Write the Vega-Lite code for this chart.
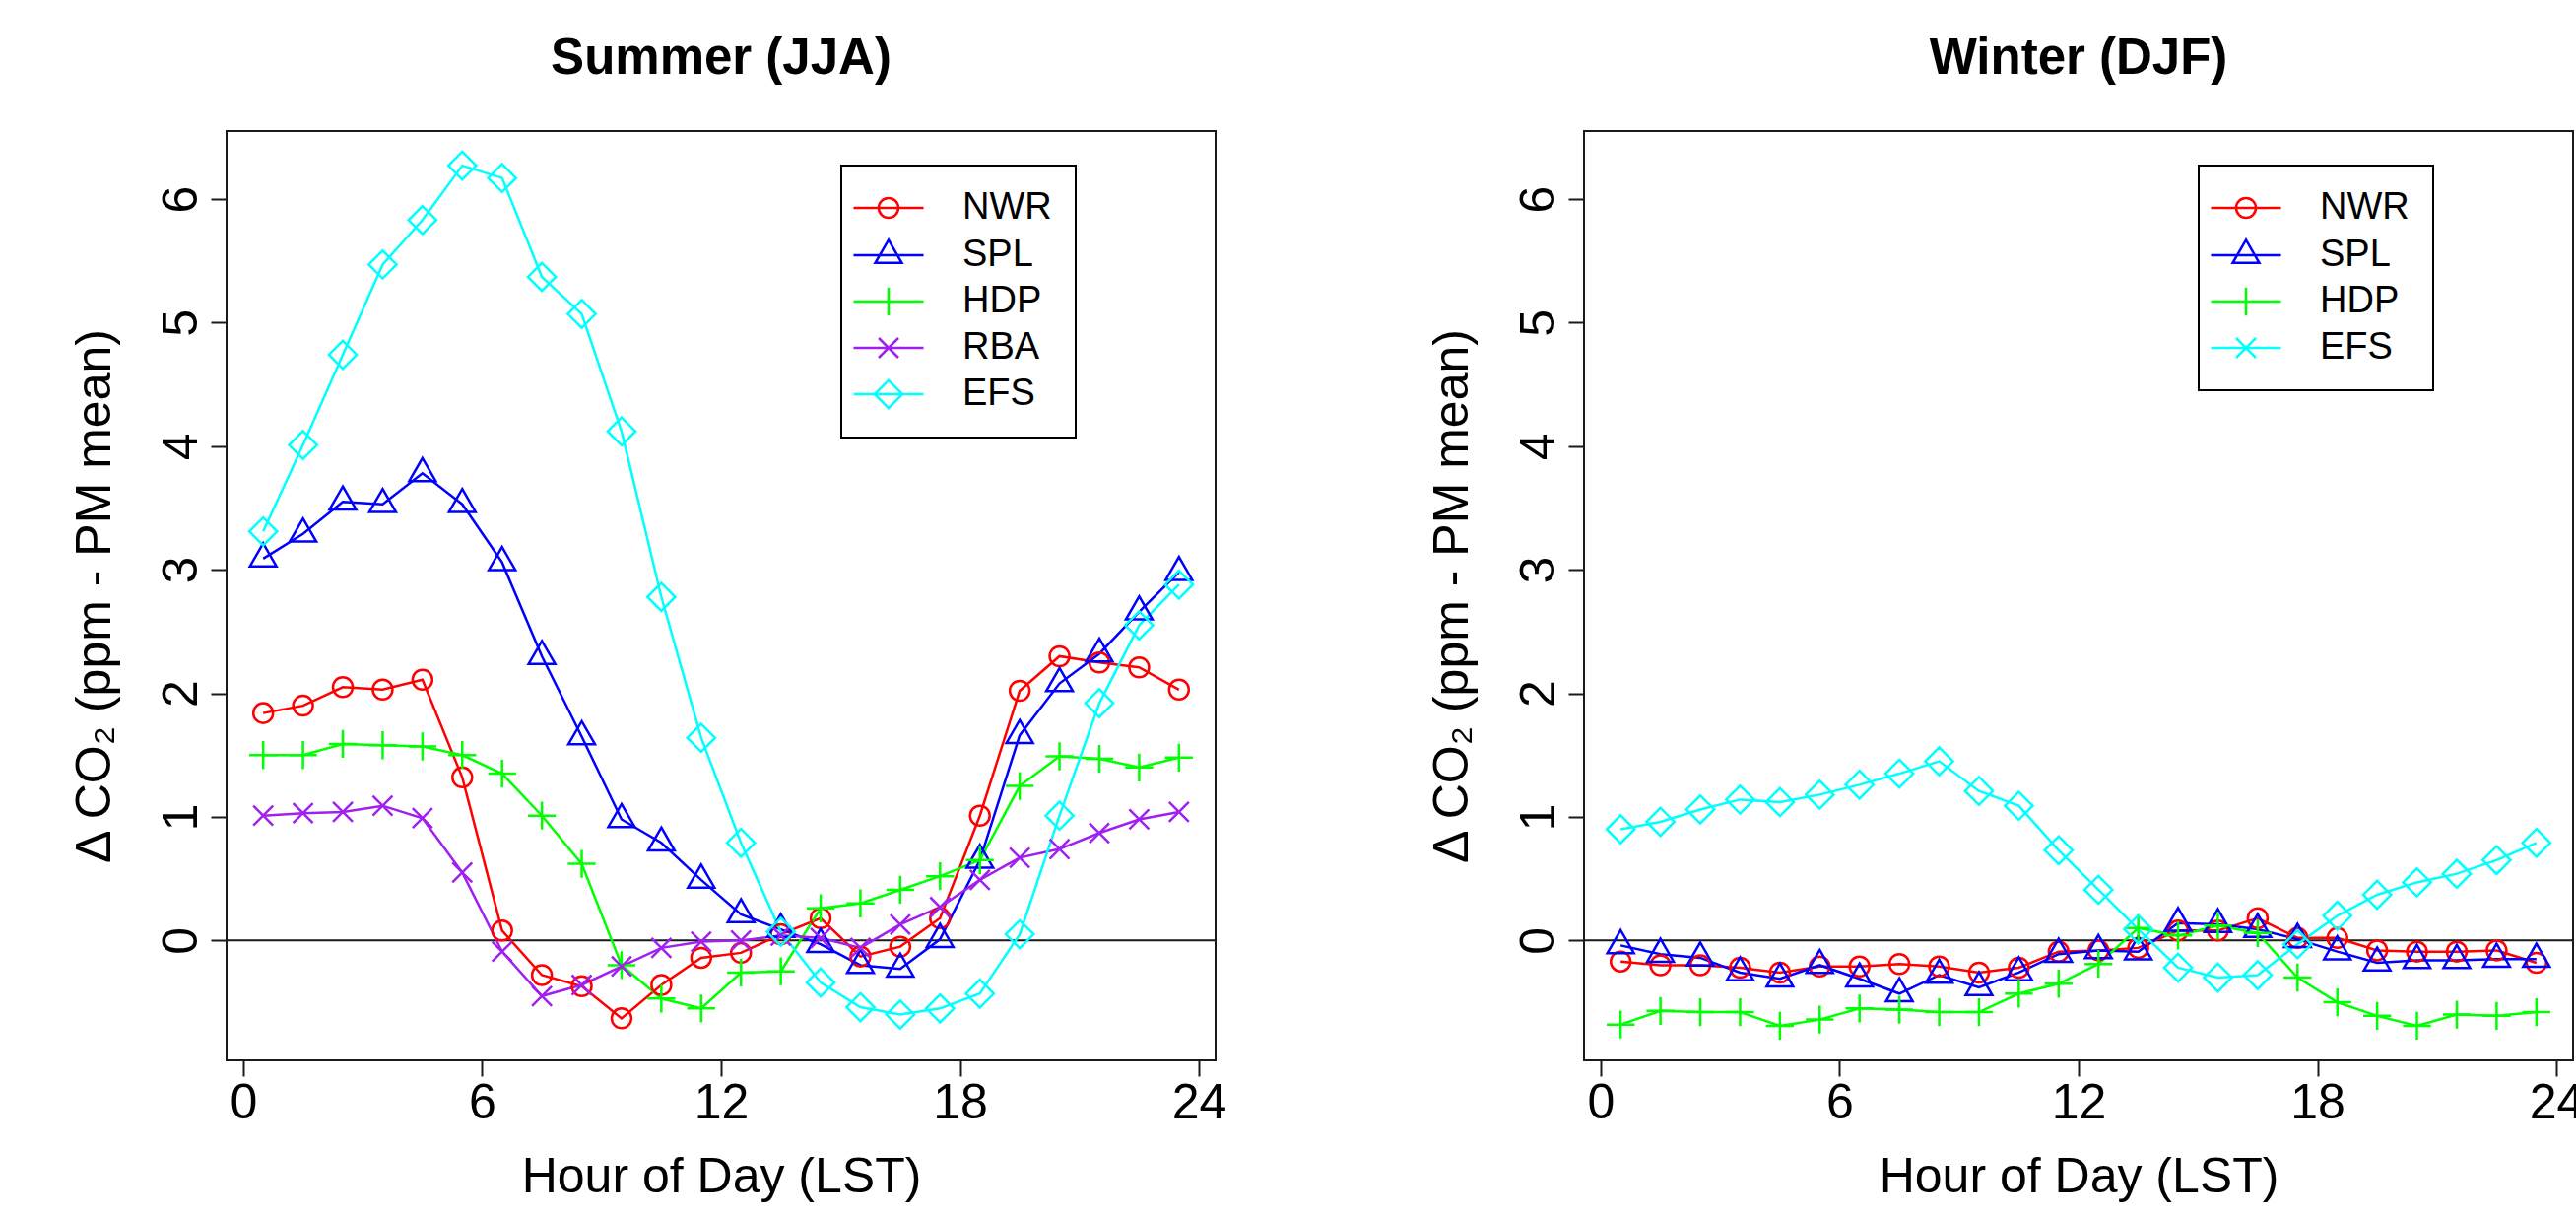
{
  "$schema": "https://vega.github.io/schema/vega-lite/v6.json",
  "background": "white",
  "padding": {"left": 70, "top": 33, "right": 0, "bottom": 5},
  "spacing": 374,
  "bounds": "flush",
  "config": {
    "font": "Liberation Sans",
    "view": {"stroke": "#1a1a1a", "strokeWidth": 2},
    "axis": {"domain": false, "grid": false, "ticks": true, "tickColor": "#1a1a1a", "tickWidth": 2, "tickSize": 16, "labelFont": "Liberation Sans", "labelFontSize": 50, "labelColor": "black", "titleFont": "Liberation Sans", "titleFontSize": 50, "titleFontWeight": "normal", "titleColor": "black"},
    "axisX": {"labelPadding": 2.5, "minExtent": 68.5, "maxExtent": 68.5, "titlePadding": 25, "labelFlush": false},
    "axisY": {"labelAngle": 270, "labelAlign": "center", "labelBaseline": "bottom", "labelPadding": 5, "minExtent": 75, "maxExtent": 75, "titlePadding": 33.5, "titleAngle": 270, "titleBaseline": "bottom", "format": "d"},
    "title": {"font": "Liberation Sans", "fontSize": 51, "fontWeight": "bold", "color": "black", "offset": 47, "anchor": "middle"},
    "legend": {"orient": "none", "legendX": 624, "legendY": 35, "padding": 24, "strokeColor": "black", "strokeWidth": 2, "fillColor": "white", "symbolSize": 900, "symbolOffset": 5, "labelOffset": 56, "rowPadding": 8, "labelFont": "Liberation Sans", "labelFontSize": 38, "labelColor": "black", "labelBaseline": "middle", "symbolStrokeWidth": 2.5, "symbolFillColor": "transparent", "title": null}
  },
  "datasets": {
    "summer": [
      {"hour":0.5,"site":"NWR","co2":1.84},{"hour":1.5,"site":"NWR","co2":1.90},{"hour":2.5,"site":"NWR","co2":2.05},{"hour":3.5,"site":"NWR","co2":2.03},{"hour":4.5,"site":"NWR","co2":2.11},{"hour":5.5,"site":"NWR","co2":1.32},{"hour":6.5,"site":"NWR","co2":0.08},{"hour":7.5,"site":"NWR","co2":-0.28},{"hour":8.5,"site":"NWR","co2":-0.37},{"hour":9.5,"site":"NWR","co2":-0.63},{"hour":10.5,"site":"NWR","co2":-0.36},{"hour":11.5,"site":"NWR","co2":-0.14},{"hour":12.5,"site":"NWR","co2":-0.10},{"hour":13.5,"site":"NWR","co2":0.05},{"hour":14.5,"site":"NWR","co2":0.18},{"hour":15.5,"site":"NWR","co2":-0.13},{"hour":16.5,"site":"NWR","co2":-0.05},{"hour":17.5,"site":"NWR","co2":0.18},{"hour":18.5,"site":"NWR","co2":1.01},{"hour":19.5,"site":"NWR","co2":2.02},{"hour":20.5,"site":"NWR","co2":2.30},{"hour":21.5,"site":"NWR","co2":2.25},{"hour":22.5,"site":"NWR","co2":2.21},{"hour":23.5,"site":"NWR","co2":2.03},
      {"hour":0.5,"site":"SPL","co2":3.09},{"hour":1.5,"site":"SPL","co2":3.29},{"hour":2.5,"site":"SPL","co2":3.55},{"hour":3.5,"site":"SPL","co2":3.53},{"hour":4.5,"site":"SPL","co2":3.78},{"hour":5.5,"site":"SPL","co2":3.53},{"hour":6.5,"site":"SPL","co2":3.06},{"hour":7.5,"site":"SPL","co2":2.30},{"hour":8.5,"site":"SPL","co2":1.65},{"hour":9.5,"site":"SPL","co2":0.98},{"hour":10.5,"site":"SPL","co2":0.79},{"hour":11.5,"site":"SPL","co2":0.49},{"hour":12.5,"site":"SPL","co2":0.21},{"hour":13.5,"site":"SPL","co2":0.09},{"hour":14.5,"site":"SPL","co2":-0.03},{"hour":15.5,"site":"SPL","co2":-0.20},{"hour":16.5,"site":"SPL","co2":-0.23},{"hour":17.5,"site":"SPL","co2":0.01},{"hour":18.5,"site":"SPL","co2":0.65},{"hour":19.5,"site":"SPL","co2":1.66},{"hour":20.5,"site":"SPL","co2":2.08},{"hour":21.5,"site":"SPL","co2":2.32},{"hour":22.5,"site":"SPL","co2":2.66},{"hour":23.5,"site":"SPL","co2":2.98},
      {"hour":0.5,"site":"HDP","co2":1.50},{"hour":1.5,"site":"HDP","co2":1.50},{"hour":2.5,"site":"HDP","co2":1.59},{"hour":3.5,"site":"HDP","co2":1.58},{"hour":4.5,"site":"HDP","co2":1.57},{"hour":5.5,"site":"HDP","co2":1.50},{"hour":6.5,"site":"HDP","co2":1.35},{"hour":7.5,"site":"HDP","co2":1.01},{"hour":8.5,"site":"HDP","co2":0.62},{"hour":9.5,"site":"HDP","co2":-0.20},{"hour":10.5,"site":"HDP","co2":-0.47},{"hour":11.5,"site":"HDP","co2":-0.55},{"hour":12.5,"site":"HDP","co2":-0.26},{"hour":13.5,"site":"HDP","co2":-0.25},{"hour":14.5,"site":"HDP","co2":0.26},{"hour":15.5,"site":"HDP","co2":0.30},{"hour":16.5,"site":"HDP","co2":0.41},{"hour":17.5,"site":"HDP","co2":0.52},{"hour":18.5,"site":"HDP","co2":0.65},{"hour":19.5,"site":"HDP","co2":1.25},{"hour":20.5,"site":"HDP","co2":1.49},{"hour":21.5,"site":"HDP","co2":1.47},{"hour":22.5,"site":"HDP","co2":1.40},{"hour":23.5,"site":"HDP","co2":1.48},
      {"hour":0.5,"site":"RBA","co2":1.01},{"hour":1.5,"site":"RBA","co2":1.03},{"hour":2.5,"site":"RBA","co2":1.04},{"hour":3.5,"site":"RBA","co2":1.09},{"hour":4.5,"site":"RBA","co2":0.99},{"hour":5.5,"site":"RBA","co2":0.55},{"hour":6.5,"site":"RBA","co2":-0.09},{"hour":7.5,"site":"RBA","co2":-0.45},{"hour":8.5,"site":"RBA","co2":-0.36},{"hour":9.5,"site":"RBA","co2":-0.21},{"hour":10.5,"site":"RBA","co2":-0.06},{"hour":11.5,"site":"RBA","co2":-0.01},{"hour":12.5,"site":"RBA","co2":0.00},{"hour":13.5,"site":"RBA","co2":0.04},{"hour":14.5,"site":"RBA","co2":0.02},{"hour":15.5,"site":"RBA","co2":-0.06},{"hour":16.5,"site":"RBA","co2":0.13},{"hour":17.5,"site":"RBA","co2":0.27},{"hour":18.5,"site":"RBA","co2":0.49},{"hour":19.5,"site":"RBA","co2":0.67},{"hour":20.5,"site":"RBA","co2":0.74},{"hour":21.5,"site":"RBA","co2":0.87},{"hour":22.5,"site":"RBA","co2":0.98},{"hour":23.5,"site":"RBA","co2":1.04},
      {"hour":0.5,"site":"EFS","co2":3.31},{"hour":1.5,"site":"EFS","co2":4.01},{"hour":2.5,"site":"EFS","co2":4.74},{"hour":3.5,"site":"EFS","co2":5.47},{"hour":4.5,"site":"EFS","co2":5.83},{"hour":5.5,"site":"EFS","co2":6.27},{"hour":6.5,"site":"EFS","co2":6.17},{"hour":7.5,"site":"EFS","co2":5.37},{"hour":8.5,"site":"EFS","co2":5.07},{"hour":9.5,"site":"EFS","co2":4.12},{"hour":10.5,"site":"EFS","co2":2.78},{"hour":11.5,"site":"EFS","co2":1.64},{"hour":12.5,"site":"EFS","co2":0.79},{"hour":13.5,"site":"EFS","co2":0.07},{"hour":14.5,"site":"EFS","co2":-0.34},{"hour":15.5,"site":"EFS","co2":-0.54},{"hour":16.5,"site":"EFS","co2":-0.60},{"hour":17.5,"site":"EFS","co2":-0.55},{"hour":18.5,"site":"EFS","co2":-0.43},{"hour":19.5,"site":"EFS","co2":0.05},{"hour":20.5,"site":"EFS","co2":1.01},{"hour":21.5,"site":"EFS","co2":1.92},{"hour":22.5,"site":"EFS","co2":2.55},{"hour":23.5,"site":"EFS","co2":2.88}
    ],
    "winter": [
      {"hour":0.5,"site":"NWR","co2":-0.17},{"hour":1.5,"site":"NWR","co2":-0.20},{"hour":2.5,"site":"NWR","co2":-0.20},{"hour":3.5,"site":"NWR","co2":-0.22},{"hour":4.5,"site":"NWR","co2":-0.26},{"hour":5.5,"site":"NWR","co2":-0.21},{"hour":6.5,"site":"NWR","co2":-0.21},{"hour":7.5,"site":"NWR","co2":-0.19},{"hour":8.5,"site":"NWR","co2":-0.21},{"hour":9.5,"site":"NWR","co2":-0.26},{"hour":10.5,"site":"NWR","co2":-0.22},{"hour":11.5,"site":"NWR","co2":-0.09},{"hour":12.5,"site":"NWR","co2":-0.08},{"hour":13.5,"site":"NWR","co2":-0.06},{"hour":14.5,"site":"NWR","co2":0.08},{"hour":15.5,"site":"NWR","co2":0.08},{"hour":16.5,"site":"NWR","co2":0.18},{"hour":17.5,"site":"NWR","co2":0.02},{"hour":18.5,"site":"NWR","co2":0.02},{"hour":19.5,"site":"NWR","co2":-0.08},{"hour":20.5,"site":"NWR","co2":-0.09},{"hour":21.5,"site":"NWR","co2":-0.09},{"hour":22.5,"site":"NWR","co2":-0.08},{"hour":23.5,"site":"NWR","co2":-0.18},
      {"hour":0.5,"site":"SPL","co2":-0.04},{"hour":1.5,"site":"SPL","co2":-0.11},{"hour":2.5,"site":"SPL","co2":-0.14},{"hour":3.5,"site":"SPL","co2":-0.26},{"hour":4.5,"site":"SPL","co2":-0.31},{"hour":5.5,"site":"SPL","co2":-0.20},{"hour":6.5,"site":"SPL","co2":-0.31},{"hour":7.5,"site":"SPL","co2":-0.43},{"hour":8.5,"site":"SPL","co2":-0.28},{"hour":9.5,"site":"SPL","co2":-0.38},{"hour":10.5,"site":"SPL","co2":-0.26},{"hour":11.5,"site":"SPL","co2":-0.11},{"hour":12.5,"site":"SPL","co2":-0.08},{"hour":13.5,"site":"SPL","co2":-0.09},{"hour":14.5,"site":"SPL","co2":0.14},{"hour":15.5,"site":"SPL","co2":0.13},{"hour":16.5,"site":"SPL","co2":0.09},{"hour":17.5,"site":"SPL","co2":0.01},{"hour":18.5,"site":"SPL","co2":-0.09},{"hour":19.5,"site":"SPL","co2":-0.18},{"hour":20.5,"site":"SPL","co2":-0.16},{"hour":21.5,"site":"SPL","co2":-0.16},{"hour":22.5,"site":"SPL","co2":-0.15},{"hour":23.5,"site":"SPL","co2":-0.15},
      {"hour":0.5,"site":"HDP","co2":-0.68},{"hour":1.5,"site":"HDP","co2":-0.57},{"hour":2.5,"site":"HDP","co2":-0.58},{"hour":3.5,"site":"HDP","co2":-0.58},{"hour":4.5,"site":"HDP","co2":-0.69},{"hour":5.5,"site":"HDP","co2":-0.64},{"hour":6.5,"site":"HDP","co2":-0.55},{"hour":7.5,"site":"HDP","co2":-0.56},{"hour":8.5,"site":"HDP","co2":-0.58},{"hour":9.5,"site":"HDP","co2":-0.58},{"hour":10.5,"site":"HDP","co2":-0.43},{"hour":11.5,"site":"HDP","co2":-0.35},{"hour":12.5,"site":"HDP","co2":-0.19},{"hour":13.5,"site":"HDP","co2":0.10},{"hour":14.5,"site":"HDP","co2":0.04},{"hour":15.5,"site":"HDP","co2":0.12},{"hour":16.5,"site":"HDP","co2":0.06},{"hour":17.5,"site":"HDP","co2":-0.30},{"hour":18.5,"site":"HDP","co2":-0.50},{"hour":19.5,"site":"HDP","co2":-0.61},{"hour":20.5,"site":"HDP","co2":-0.69},{"hour":21.5,"site":"HDP","co2":-0.60},{"hour":22.5,"site":"HDP","co2":-0.61},{"hour":23.5,"site":"HDP","co2":-0.58},
      {"hour":0.5,"site":"EFS","co2":0.90},{"hour":1.5,"site":"EFS","co2":0.96},{"hour":2.5,"site":"EFS","co2":1.06},{"hour":3.5,"site":"EFS","co2":1.14},{"hour":4.5,"site":"EFS","co2":1.12},{"hour":5.5,"site":"EFS","co2":1.18},{"hour":6.5,"site":"EFS","co2":1.26},{"hour":7.5,"site":"EFS","co2":1.35},{"hour":8.5,"site":"EFS","co2":1.45},{"hour":9.5,"site":"EFS","co2":1.21},{"hour":10.5,"site":"EFS","co2":1.09},{"hour":11.5,"site":"EFS","co2":0.73},{"hour":12.5,"site":"EFS","co2":0.41},{"hour":13.5,"site":"EFS","co2":0.09},{"hour":14.5,"site":"EFS","co2":-0.22},{"hour":15.5,"site":"EFS","co2":-0.30},{"hour":16.5,"site":"EFS","co2":-0.28},{"hour":17.5,"site":"EFS","co2":-0.03},{"hour":18.5,"site":"EFS","co2":0.20},{"hour":19.5,"site":"EFS","co2":0.37},{"hour":20.5,"site":"EFS","co2":0.47},{"hour":21.5,"site":"EFS","co2":0.54},{"hour":22.5,"site":"EFS","co2":0.65},{"hour":23.5,"site":"EFS","co2":0.79}
    ]
  },
  "hconcat": [
    {
      "width": 1004, "height": 943,
      "title": {"text": "Summer (JJA)"},
      "data": {"name": "summer"},
      "resolve": {"scale": {"shape": "independent", "color": "independent"}},
      "layer": [
        {"data": {"values": [{}]}, "mark": {"type": "rule", "color": "#1a1a1a", "strokeWidth": 2}, "encoding": {"y": {"datum": 0, "type": "quantitative", "scale": {"domain": [-0.97, 6.55], "nice": false, "zero": false}, "axis": {"values": [0, 1, 2, 3, 4, 5, 6], "title": "Δ CO₂ (ppm - PM mean)"}}}},
        {"mark": {"type": "line", "strokeWidth": 2.5}, "encoding": {
          "x": {"field": "hour", "type": "quantitative", "scale": {"domain": [-0.42, 24.42], "nice": false, "zero": false}, "axis": {"values": [0, 6, 12, 18, 24], "title": "Hour of Day (LST)"}},
          "y": {"field": "co2", "type": "quantitative", "scale": {"domain": [-0.97, 6.55], "nice": false, "zero": false}, "axis": {"values": [0, 1, 2, 3, 4, 5, 6], "title": "Δ CO₂ (ppm - PM mean)"}},
          "color": {"field": "site", "type": "nominal", "scale": {"domain": ["NWR", "SPL", "HDP", "RBA", "EFS"], "range": ["#ff0000", "#0000ff", "#00ff00", "#a020f0", "#00ffff"]}, "legend": null}}},
        {"mark": {"type": "point", "filled": false, "strokeWidth": 2.5, "size": 900, "opacity": 1}, "encoding": {
          "x": {"field": "hour", "type": "quantitative"},
          "y": {"field": "co2", "type": "quantitative"},
          "color": {"field": "site", "type": "nominal", "scale": {"domain": ["NWR", "SPL", "HDP", "RBA", "EFS"], "range": ["#ff0000", "#0000ff", "#00ff00", "#a020f0", "#00ffff"]}, "legend": null},
          "shape": {"field": "site", "type": "nominal", "scale": {"domain": ["NWR", "SPL", "HDP", "RBA", "EFS"], "range": ["M0.667,0A0.667,0.667,0,1,1,-0.667,0A0.667,0.667,0,1,1,0.667,0Z", "M0,-1.037L0.898,0.518L-0.898,0.518Z", "M-0.943,0H0.943M0,-0.943V0.943", "M-0.667,-0.667L0.667,0.667M-0.667,0.667L0.667,-0.667", "M0,-0.943L0.943,0L0,0.943L-0.943,0Z"]}, "legend": null}}},
        {"mark": {"type": "point", "opacity": 0, "filled": false, "strokeWidth": 2.5}, "encoding": {
          "x": {"field": "hour", "type": "quantitative"},
          "y": {"field": "co2", "type": "quantitative"},
          "color": {"field": "site", "type": "nominal", "scale": {"domain": ["NWR", "SPL", "HDP", "RBA", "EFS"], "range": ["#ff0000", "#0000ff", "#00ff00", "#a020f0", "#00ffff"]}, "legend": {"title": null}},
          "shape": {"field": "site", "type": "nominal", "scale": {"domain": ["NWR", "SPL", "HDP", "RBA", "EFS"], "range": ["M-2.37,0H2.37M0.667,0A0.667,0.667,0,1,1,-0.667,0A0.667,0.667,0,1,1,0.667,0Z", "M-2.37,0H2.37M0,-1.037L0.898,0.518L-0.898,0.518Z", "M-2.37,0H2.37M0,-0.943V0.943", "M-2.37,0H2.37M-0.667,-0.667L0.667,0.667M-0.667,0.667L0.667,-0.667", "M-2.37,0H2.37M0,-0.943L0.943,0L0,0.943L-0.943,0Z"]}, "legend": {"title": null}}}}
      ]
    },
    {
      "width": 1004, "height": 943,
      "title": {"text": "Winter (DJF)"},
      "data": {"name": "winter"},
      "resolve": {"scale": {"shape": "independent", "color": "independent"}},
      "layer": [
        {"data": {"values": [{}]}, "mark": {"type": "rule", "color": "#1a1a1a", "strokeWidth": 2}, "encoding": {"y": {"datum": 0, "type": "quantitative", "scale": {"domain": [-0.97, 6.55], "nice": false, "zero": false}, "axis": {"values": [0, 1, 2, 3, 4, 5, 6], "title": "Δ CO₂ (ppm - PM mean)"}}}},
        {"mark": {"type": "line", "strokeWidth": 2.5}, "encoding": {
          "x": {"field": "hour", "type": "quantitative", "scale": {"domain": [-0.42, 24.42], "nice": false, "zero": false}, "axis": {"values": [0, 6, 12, 18, 24], "title": "Hour of Day (LST)"}},
          "y": {"field": "co2", "type": "quantitative", "scale": {"domain": [-0.97, 6.55], "nice": false, "zero": false}, "axis": {"values": [0, 1, 2, 3, 4, 5, 6], "title": "Δ CO₂ (ppm - PM mean)"}},
          "color": {"field": "site", "type": "nominal", "scale": {"domain": ["NWR", "SPL", "HDP", "EFS"], "range": ["#ff0000", "#0000ff", "#00ff00", "#00ffff"]}, "legend": null}}},
        {"mark": {"type": "point", "filled": false, "strokeWidth": 2.5, "size": 900, "opacity": 1}, "encoding": {
          "x": {"field": "hour", "type": "quantitative"},
          "y": {"field": "co2", "type": "quantitative"},
          "color": {"field": "site", "type": "nominal", "scale": {"domain": ["NWR", "SPL", "HDP", "EFS"], "range": ["#ff0000", "#0000ff", "#00ff00", "#00ffff"]}, "legend": null},
          "shape": {"field": "site", "type": "nominal", "scale": {"domain": ["NWR", "SPL", "HDP", "EFS"], "range": ["M0.667,0A0.667,0.667,0,1,1,-0.667,0A0.667,0.667,0,1,1,0.667,0Z", "M0,-1.037L0.898,0.518L-0.898,0.518Z", "M-0.943,0H0.943M0,-0.943V0.943", "M0,-0.943L0.943,0L0,0.943L-0.943,0Z"]}, "legend": null}}},
        {"mark": {"type": "point", "opacity": 0, "filled": false, "strokeWidth": 2.5}, "encoding": {
          "x": {"field": "hour", "type": "quantitative"},
          "y": {"field": "co2", "type": "quantitative"},
          "color": {"field": "site", "type": "nominal", "scale": {"domain": ["NWR", "SPL", "HDP", "EFS"], "range": ["#ff0000", "#0000ff", "#00ff00", "#00ffff"]}, "legend": {"title": null}},
          "shape": {"field": "site", "type": "nominal", "scale": {"domain": ["NWR", "SPL", "HDP", "EFS"], "range": ["M-2.37,0H2.37M0.667,0A0.667,0.667,0,1,1,-0.667,0A0.667,0.667,0,1,1,0.667,0Z", "M-2.37,0H2.37M0,-1.037L0.898,0.518L-0.898,0.518Z", "M-2.37,0H2.37M0,-0.943V0.943", "M-2.37,0H2.37M-0.667,-0.667L0.667,0.667M-0.667,0.667L0.667,-0.667"]}, "legend": {"title": null}}}}
      ]
    }
  ]
}
